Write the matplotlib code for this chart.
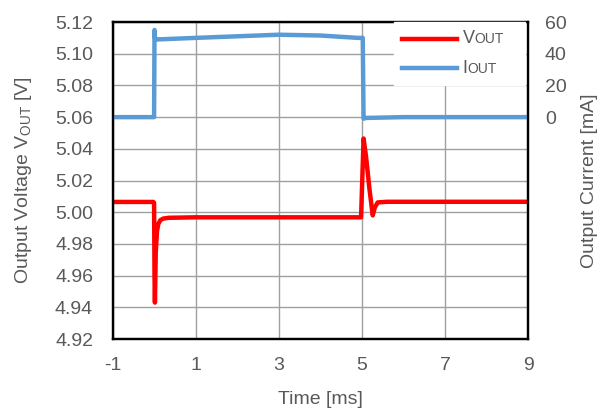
import numpy as np
import matplotlib
matplotlib.use("Agg")
import matplotlib.pyplot as plt
from matplotlib.lines import Line2D
from matplotlib.offsetbox import AnchoredOffsetbox, VPacker, HPacker, TextArea, DrawingArea

plt.rcParams['font.family'] = ['Liberation Sans', 'DejaVu Sans']
plt.rcParams['mathtext.fontset'] = 'custom'
plt.rcParams['mathtext.rm'] = 'Liberation Sans'
plt.rcParams['axes.unicode_minus'] = False

# VOUT trace (time in ms, voltage in V)
t_vout = [-1.0, -0.02, 0.0, 0.01, 0.02, 0.04, 0.07, 0.1, 0.15, 0.22, 0.35, 1.0, 3.0, 4.98,
          5.02, 5.04, 5.1, 5.18, 5.26, 5.31, 5.38, 5.6, 7.0, 9.0]
vout = [5.0065, 5.0065, 5.006, 4.960, 4.943, 4.975, 4.988, 4.9925, 4.995, 4.996, 4.9965, 4.9968, 4.9968, 4.9968,
        5.030, 5.0465, 5.035, 5.015, 4.998, 5.003, 5.0062, 5.0066, 5.0066, 5.0066]

# IOUT trace (time in ms, current in mA)
t_iout = [-1.0, 0.0, 0.01, 0.02, 0.06, 1.0, 2.0, 3.0, 4.0, 4.9, 5.02, 5.04, 5.1, 6.0, 9.0]
iout = [0.0, 0.0, 55.0, 50.0, 49.0, 50.0, 51.0, 52.0, 51.5, 50.0, 50.0, -1.0, -0.5, 0.0, 0.0]

x_ticks = [-1, 1, 3, 5, 7, 9]
v_ticks = np.arange(4.92, 5.1201, 0.02)
i_ticks = [0, 20, 40, 60]

red = '#ff0000'
blue = '#5b9bd5'
txt = '#595959'

fig = plt.figure(figsize=(6.05, 4.08), dpi=100)
ax = fig.add_axes([0.186, 0.169, 0.687, 0.777])
ax2 = ax.twinx()

ax.plot(t_vout, vout, color=red, lw=3.2, solid_capstyle='round')
ax2.plot(t_iout, iout, color=blue, lw=3.2, solid_capstyle='round')

ax.set_xlim(-1, 9)
ax.set_ylim(4.92, 5.12)
ax2.set_ylim(-140, 60)
ax.set_xticks(x_ticks)
ax.set_yticks(v_ticks)
ax.set_yticklabels([f"{v:.2f}" for v in v_ticks])
ax2.set_yticks(i_ticks)

ax.grid(True, color='#a0a0a0', lw=1)
ax.set_axisbelow(True)
for a in (ax, ax2):
    a.tick_params(length=0, labelsize=14, colors=txt)
    for s in a.spines.values():
        s.set_color('black')
        s.set_linewidth(1.6)
ax.tick_params(axis='y', pad=14)
ax.tick_params(axis='x', pad=13)
ax2.tick_params(axis='y', pad=12)

ax.set_xlabel("Time [ms]", fontsize=14, color=txt, labelpad=12)
ax.set_ylabel(r"Output Voltage V$_{\mathregular{OUT}}$ [V]", fontsize=14, color=txt, labelpad=15)
ax2.set_ylabel("Output Current [mA]", fontsize=14, color=txt, labelpad=10)


# legend with small-caps style "OUT" labels
def legend_row(color, letter):
    da = DrawingArea(39.6, 8, 0, 0)
    da.add_artist(Line2D([0, 39.6], [4, 4], color=color, lw=3.2))
    lab = HPacker(children=[TextArea(letter, textprops=dict(fontsize=13, color=txt)),
                            TextArea("OUT", textprops=dict(fontsize=10, color=txt))],
                  align='baseline', pad=0, sep=0)
    return HPacker(children=[da, lab, DrawingArea(6, 1, 0, 0)], align='center', pad=0, sep=3.6)


box = VPacker(children=[legend_row(red, "V"), legend_row(blue, "I")], align='left', pad=0, sep=9)
leg = AnchoredOffsetbox(loc='upper left', child=box, pad=0.6, borderpad=0,
                        bbox_to_anchor=(0.6775, 1.0), bbox_transform=ax2.transAxes, frameon=True)
leg.patch.set_facecolor('white')
leg.patch.set_edgecolor('white')
leg.set_zorder(5)
ax2.add_artist(leg)

fig.savefig("out.png", dpi=100)
